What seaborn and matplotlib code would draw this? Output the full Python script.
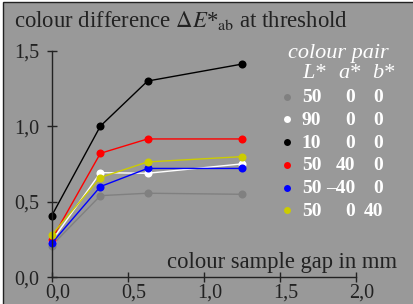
import matplotlib
matplotlib.use("Agg")
import matplotlib.pyplot as plt
import matplotlib.transforms as mtransforms
import seaborn as sns
import pandas as pd
from matplotlib.patches import Rectangle

# ---- data ----
gap_mm = [0.0, 0.32, 0.63, 1.25]
series_names = ["50 0 0", "90 0 0", "10 0 0", "50 40 0", "50 -40 0", "50 0 40"]
L_vals = ["50", "90", "10", "50", "50", "50"]
a_vals = ["0", "0", "0", "40", "\u201340", "0"]
b_vals = ["0", "0", "0", "0", "0", "40"]
colors = ["#808080", "#ffffff", "#000000", "#ff0000", "#0000ff", "#cccc00"]
y_grey = [0.21, 0.54, 0.556, 0.549]
y_white = [0.24, 0.692, 0.688, 0.75]
y_black = [0.407, 1.0, 1.298, 1.41]
y_red = [0.25, 0.82, 0.915, 0.915]
y_blue = [0.225, 0.60, 0.72, 0.72]
y_yellow = [0.28, 0.66, 0.763, 0.798]
x_ticks = [0.0, 0.5, 1.0, 1.5, 2.0]
x_ticklabels = ["0,0", "0,5", "1,0", "1,5", "2,0"]
y_ticks = [0.0, 0.5, 1.0, 1.5]
y_ticklabels = ["0,0", "0,5", "1,0", "1,5"]

all_y = [y_grey, y_white, y_black, y_red, y_blue, y_yellow]
rows = []
for name, ys in zip(series_names, all_y):
    for x, y in zip(gap_mm, ys):
        rows.append({"gap": x, "dE": y, "pair": name})
df = pd.DataFrame(rows)

sns.set_style("white")
plt.rcParams["font.family"] = ["Liberation Serif", "DejaVu Serif"]
plt.rcParams["mathtext.fontset"] = "stix"

W, H = 413, 304
fig = plt.figure(figsize=(W / 100, H / 100), dpi=100)
fig.patch.set_facecolor("white")
bg = "#999999"
fig.patches.append(Rectangle((2.5 / W, -0.1), 1.2, (H - 2.5) / H + 0.1,
                             transform=fig.transFigure, facecolor=bg,
                             edgecolor="#222222", linewidth=1.0, zorder=-5))

x0, x1 = 51.7, 356.0
y0, y1 = 277.3, 50.5
ax = fig.add_axes([x0 / W, (H - y0) / H, (x1 - x0) / W, (y0 - y1) / H])
ax.set_facecolor("none")
ax.set_zorder(2)

sns.lineplot(data=df, x="gap", y="dE", hue="pair", palette=colors,
             hue_order=series_names, marker="o", markersize=5.8,
             markeredgewidth=0, linewidth=1.0, legend=False, ax=ax)
for ln in ax.lines:
    ln.set_clip_on(False)

ax.set_xlim(0, 2.0)
ax.set_ylim(0, 1.5)
ax.set_xticks(x_ticks)
ax.set_xticklabels(x_ticklabels)
ax.set_yticks(y_ticks)
ax.set_yticklabels(y_ticklabels)
ax.set_xlabel("")
ax.set_ylabel("")
for s in ["top", "right"]:
    ax.spines[s].set_visible(False)
for s in ["left", "bottom"]:
    ax.spines[s].set_visible(True)
    ax.spines[s].set_color("#222222")
    ax.spines[s].set_linewidth(1.0)
ax.tick_params(direction="inout", length=6.5, width=1.0, color="#222222",
               labelsize=14.5, labelcolor="#222222", pad=1.5,
               bottom=True, left=True)
ax.tick_params(axis="y", pad=6)
offset = mtransforms.ScaledTranslation(6 / 100, 0, fig.dpi_scale_trans)
for lab in ax.get_xticklabels():
    lab.set_transform(lab.get_transform() + offset)

# title
fig.text(14 / W, 1 - 27 / H, r"colour difference $\Delta E$*${}_{\mathrm{ab}}$ at threshold",
         fontsize=16.4, color="#222222", ha="left", va="baseline")
# x label
fig.text(397 / W, 1 - 268 / H, "colour sample gap in mm", fontsize=16.3,
         color="#222222", ha="right", va="baseline")

# legend
fig.text(338 / W, 1 - 58 / H, "colour pair", fontsize=16, style="italic",
         color="white", ha="center", va="baseline")
fig.text(302 / W, 1 - 78 / H, "L*", fontsize=16, style="italic",
         color="white", ha="left", va="baseline")
fig.text(349 / W, 1 - 78 / H, "a*", fontsize=16, style="italic",
         color="white", ha="center", va="baseline")
fig.text(383 / W, 1 - 78 / H, "b*", fontsize=16, style="italic",
         color="white", ha="center", va="baseline")
row_y = [96.7, 119.3, 142.0, 164.7, 187.7, 210.0]
for c, Lv, av, bv, yy in zip(colors, L_vals, a_vals, b_vals, row_y):
    fig.lines.append(plt.Line2D([287 / W], [1 - yy / H], transform=fig.transFigure,
                                marker="o", markersize=5, color=c,
                                markeredgewidth=0, linestyle="none"))
    fig.text(311.5 / W, 1 - (yy + 5.5) / H, Lv, fontsize=14, fontweight="bold",
             color="white", ha="center", va="baseline")
    fig.text(355 / W, 1 - (yy + 5.5) / H, av, fontsize=14, fontweight="bold",
             color="white", ha="right", va="baseline")
    fig.text(383 / W, 1 - (yy + 5.5) / H, bv, fontsize=14, fontweight="bold",
             color="white", ha="right", va="baseline")

fig.savefig("out.png", dpi=100, facecolor=fig.get_facecolor())
